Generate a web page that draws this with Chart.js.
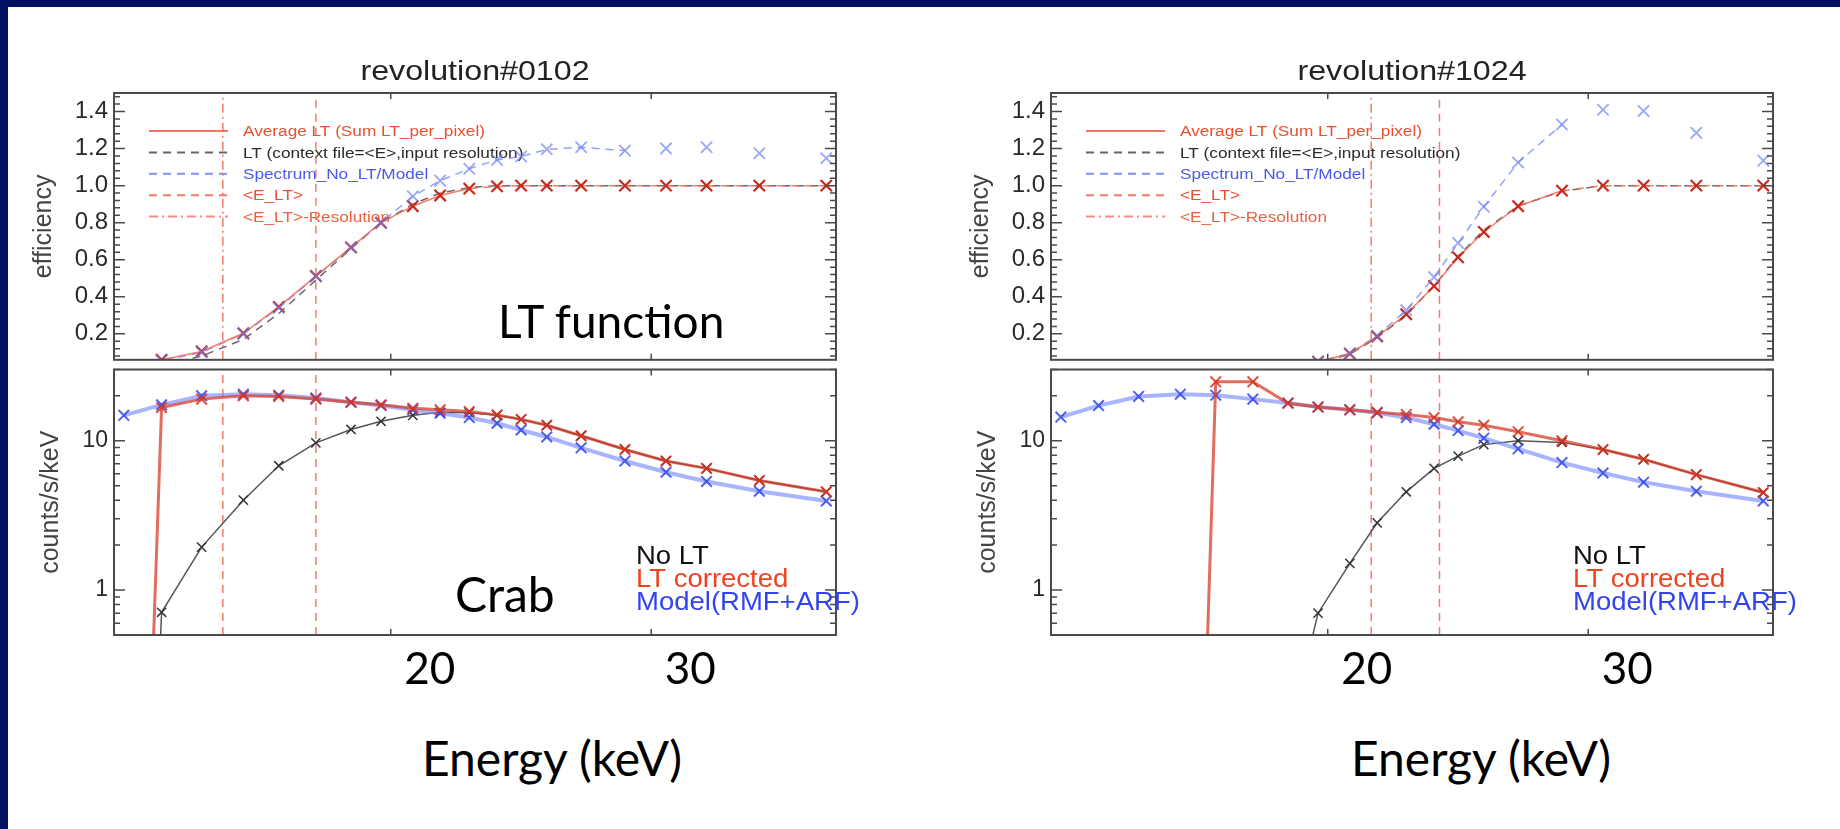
<!DOCTYPE html>
<html>
<head>
<meta charset="utf-8">
<title>LT efficiency and Crab spectra</title>
<script src="https://cdn.jsdelivr.net/npm/chart.js@4.4.1/dist/chart.umd.min.js"></script>
<style>
  html, body { margin: 0; padding: 0; background: #fff; }
  body { width: 1840px; height: 829px; position: relative; overflow: hidden; }
  .band-top { position: absolute; left: 0; top: 0; width: 1840px; height: 7px; background: #021064; }
  .band-left { position: absolute; left: 0; top: 0; width: 8px; height: 829px; background: #021064; }
  .box { position: absolute; }
  .note { position: absolute; font-family: Lato, "Open Sans", sans-serif; color: #000; white-space: nowrap; line-height: 1; }
</style>
</head>
<body>
<div class="band-top"></div>
<div class="band-left"></div>

<div class="box" style="left:0;top:40px"><canvas id="effL" width="920" height="330"></canvas></div>
<div class="box" style="left:0;top:360px"><canvas id="cntL" width="920" height="340"></canvas></div>
<div class="box" style="left:937px;top:40px"><canvas id="effR" width="903" height="330"></canvas></div>
<div class="box" style="left:937px;top:360px"><canvas id="cntR" width="903" height="340"></canvas></div>

<div class="note" style="left:498px;top:298px;font-size:46px">LT function</div>
<div class="note" style="left:455px;top:570px;font-size:48px">Crab</div>
<div class="note" style="left:422px;top:734px;font-size:48px">Energy (keV)</div>
<div class="note" style="left:1351px;top:734px;font-size:48px">Energy (keV)</div>

<script>
// energy bins (keV), shared by both revolutions
const energy = [13.2, 14.0, 14.9, 15.9, 16.8, 17.8, 18.8, 19.7, 20.7, 21.6,
                22.6, 23.6, 24.5, 25.5, 26.9, 28.8, 30.7, 32.7, 35.5, 39.4];

const energyTicks = [20, 30];
const effTicks = [0.2, 0.4, 0.6, 0.8, 1.0, 1.2, 1.4];
const countTicks = [1, 10];
const countMinor = [0.6, 0.7, 0.8, 0.9, 2, 3, 4, 5, 6, 7, 8, 9, 20, 30];

// revolution 0102
const avgLT0102   = [0, 0.06, 0.105, 0.203, 0.346, 0.512, 0.667, 0.80, 0.889, 0.947,
                     0.984, 0.996, 1.0, 1.0, 1.0, 1.0, 1.0, 1.0, 1.0, 1.0];
const ctxLT0102   = [0, 0.03, 0.08, 0.17, 0.31, 0.49, 0.66, 0.80, 0.90, 0.96,
                     0.99, 1.0, 1.0, 1.0, 1.0, 1.0, 1.0, 1.0, 1.0, 1.0];
const ratio0102   = [0, 0.055, 0.10, 0.20, 0.34, 0.51, 0.665, 0.80, 0.943, 1.027,
                     1.091, 1.139, 1.157, 1.196, 1.207, 1.189, 1.201, 1.207, 1.175, 1.148];
const model0102   = [14.8, 17.4, 20.0, 20.5, 20.2, 19.3, 18.1, 17.2, 16.1, 15.3,
                     14.3, 13.1, 11.8, 10.6, 8.96, 7.32, 6.15, 5.34, 4.59, 3.95];
const corr0102    = [1e-6, 16.7, 19.0, 20.0, 19.8, 19.0, 18.1, 17.4, 16.5, 16.1,
                     15.7, 14.9, 13.9, 12.7, 10.8, 8.74, 7.32, 6.53, 5.42, 4.55];
const noLT0102    = [1e-6, 0.71, 1.94, 4.0, 6.8, 9.67, 11.9, 13.5, 14.8, 15.5,
                     15.4, 14.8, 13.9, 12.7, 10.8, 8.74, 7.32, 6.53, 5.42, 4.55];
const eLT0102     = [15.4, 17.8];   // <E_LT>-Resolution, <E_LT>

// revolution 1024
const avgLT1024   = [0, 0, 0, 0, 0, 0, 0, 0.05, 0.093, 0.186,
                     0.306, 0.458, 0.613, 0.75, 0.889, 0.973, 1.0, 1.0, 1.0, 1.0];
const ctxLT1024   = [0, 0, 0, 0, 0, 0, 0, 0.04, 0.09, 0.18,
                     0.30, 0.46, 0.62, 0.76, 0.89, 0.97, 1.0, 1.0, 1.0, 1.0];
const ratio1024   = [0, 0, 0, 0, 0, 0, 0.02, 0.05, 0.095, 0.19,
                     0.328, 0.506, 0.69, 0.886, 1.125, 1.33, 1.41, 1.403, 1.285, 1.135];
const model1024   = [14.4, 17.2, 19.8, 20.5, 20.2, 19.0, 17.9, 16.8, 16.1, 15.4,
                     14.3, 12.9, 11.7, 10.4, 8.83, 7.14, 6.08, 5.28, 4.59, 3.95];
const corr1024    = [null, null, null, 1e-6, 24.8, 24.8, 17.8, 16.8, 16.1, 15.5,
                     15.0, 14.3, 13.4, 12.7, 11.5, 10.0, 8.73, 7.51, 5.93, 4.5];
const noLT1024    = [null, null, null, null, null, null, 0.1, 0.70, 1.51, 2.82,
                     4.55, 6.53, 7.89, 9.42, 10.0, 9.75, 8.73, 7.51, 5.93, 4.5];
const eLT1024     = [21.4, 23.8];

// the ratio curve is only joined up to this bin; above it the points stand alone
const ratioLineEnd = 28.8;

const effLegend = ['Average LT (Sum LT_per_pixel)', 'LT (context file=<E>,input resolution)',
                   'Spectrum_No_LT/Model', '<E_LT>', '<E_LT>-Resolution'];
const cntLegend = ['No LT', 'LT corrected', 'Model(RMF+ARF)'];

const RED = '#c92a1c', RED_LINE = 'rgba(240,105,85,0.85)';
const BLUE_LINE = 'rgba(120,140,245,0.8)';
const GREY = 'rgba(80,80,80,0.85)';
const DASH = [8, 6], DASHDOT = [9, 4, 2, 4];
const SANS = '"Liberation Sans", Arial, sans-serif';

const pts = ys => energy.map((e, i) => ({ x: e, y: ys[i] }));

const effMinor = [];
for (let v = 0.08; v < 1.5; v += 0.04) {
  const r = Math.round(v * 100) / 100;
  if (!effTicks.some(t => Math.abs(t - r) < 1e-6)) effMinor.push(r);
}

// keep the plot box exactly where the layout padding puts it
const noEdgePadding = s => { s.paddingTop = 0; s.paddingBottom = 0; s.paddingLeft = 0; s.paddingRight = 0; };

// the plot text is a slightly wide Helvetica: draw it stretched sideways
function wideText(ctx, text, x, y, sx) {
  ctx.save();
  ctx.translate(x, y);
  ctx.scale(sx, 1);
  ctx.fillText(text, 0, 0);
  ctx.restore();
}

// IDL style frame: box, inward ticks on all sides, in-plot legend and title
const idlFrame = {
  id: 'idlFrame',
  beforeDatasetsDraw(chart, args, o) {
    const { ctx, chartArea: a } = chart;
    if (o.lineLegend) {
      ctx.save();
      ctx.font = '15.5px ' + SANS;
      ctx.textBaseline = 'middle';
      o.lineLegend.forEach((it, i) => {
        const y = a.top + 38 + i * 21.4;
        ctx.strokeStyle = it.line; ctx.lineWidth = 2; ctx.setLineDash(it.dash || []);
        ctx.beginPath(); ctx.moveTo(a.left + 35, y); ctx.lineTo(a.left + 114, y); ctx.stroke();
        ctx.fillStyle = it.color;
        wideText(ctx, it.text, a.left + 129, y + 1, 1.11);
      });
      ctx.restore();
    }
  },
  afterDatasetsDraw(chart, args, o) {
    const { ctx, chartArea: a, scales } = chart;
    ctx.save();
    ctx.strokeStyle = '#4a4a4a';
    ctx.lineWidth = 1.5;
    const y = scales.y, x = scales.x;
    const yTick = (v, len) => {
      const p = y.getPixelForValue(v);
      ctx.beginPath();
      ctx.moveTo(a.left, p); ctx.lineTo(a.left + len, p);
      ctx.moveTo(a.right, p); ctx.lineTo(a.right - len, p);
      ctx.stroke();
    };
    o.yMajor.forEach(v => yTick(v, 11));
    o.yMinor.forEach(v => yTick(v, 6));
    energyTicks.forEach(v => {
      const p = x.getPixelForValue(v);
      ctx.beginPath();
      ctx.moveTo(p, a.top); ctx.lineTo(p, a.top + 6);
      ctx.moveTo(p, a.bottom); ctx.lineTo(p, a.bottom - 6);
      ctx.stroke();
    });
    ctx.lineWidth = 2;
    ctx.strokeRect(a.left, a.top, a.right - a.left, a.bottom - a.top);
    if (o.title) {
      ctx.font = '28px ' + SANS;
      ctx.fillStyle = '#222';
      ctx.textAlign = 'center';
      ctx.textBaseline = 'alphabetic';
      wideText(ctx, o.title, (a.left + a.right) / 2, a.top - 13, 1.15);
    }
    if (o.textLegend) {
      ctx.font = '25px ' + SANS;
      ctx.textAlign = 'left';
      ctx.textBaseline = 'alphabetic';
      o.textLegend.forEach((it, i) => {
        ctx.fillStyle = it.color;
        wideText(ctx, it.text, a.left + 522, a.top + 194 + i * 23, 1.1);
      });
    }
    ctx.restore();
  }
};

function vline(e, ymin, ymax, dash) {
  return {
    data: [{ x: e, y: ymin }, { x: e, y: ymax }],
    borderColor: 'rgba(240,100,80,0.85)', borderWidth: 1.5, borderDash: dash,
    pointRadius: 0, order: 9
  };
}

function effChart(id, rightPad, title, avg, ctxLT, ratio, eLT) {
  const ratioPts = pts(ratio);
  return new Chart(document.getElementById(id), {
    type: 'line',
    data: {
      datasets: [
        vline(eLT[0], 0.06, 1.5, DASHDOT),
        vline(eLT[1], 0.06, 1.5, DASH),
        { data: pts(ctxLT), borderColor: GREY, borderWidth: 1.5, borderDash: DASH,
          pointRadius: 0, order: 5 },
        { data: pts(avg), borderColor: RED_LINE, borderWidth: 1.5,
          segment: { borderDash: c => (c.p0.parsed.y >= 0.97 && c.p1.parsed.y >= 0.97 ? DASH : undefined) },
          pointStyle: 'crossRot', pointRadius: 8, pointBorderWidth: 2.2,
          pointBorderColor: RED, order: 3 },
        { data: ratioPts.filter(p => p.x <= ratioLineEnd), borderColor: BLUE_LINE,
          borderWidth: 1.5, borderDash: DASH, pointRadius: 0, order: 4 },
        { data: ratioPts, showLine: false,
          pointStyle: 'crossRot', pointRadius: 8, pointBorderWidth: 1.8,
          pointBorderColor: 'rgba(110,130,240,0.7)', order: 2 }
      ]
    },
    options: {
      responsive: false, animation: false,
      layout: { padding: { left: 0, right: rightPad, top: 53, bottom: 7 } },
      scales: {
        x: { type: 'logarithmic', min: 13, max: 40, display: false },
        y: {
          type: 'linear', min: 0.06, max: 1.5,
          afterBuildTicks: s => { s.ticks = effTicks.map(v => ({ value: v })); },
          afterFit: s => { s.width = 114; noEdgePadding(s); },
          grid: { display: false, drawTicks: false }, border: { display: false },
          ticks: { callback: v => v.toFixed(1), padding: 6, color: '#2a2a2a',
                   font: { family: SANS, size: 24 } },
          title: { display: true, text: 'efficiency', color: '#444',
                   font: { family: SANS, size: 25 }, padding: { top: 29, bottom: 0 } }
        }
      },
      plugins: {
        legend: { display: false }, tooltip: { enabled: false },
        idlFrame: {
          title, yMajor: effTicks, yMinor: effMinor,
          lineLegend: [
            { text: effLegend[0], color: '#e8502f', line: 'rgba(240,110,90,0.95)' },
            { text: effLegend[1], color: '#2a2a2a', line: '#666', dash: DASH },
            { text: effLegend[2], color: '#4a5ae8', line: '#8090f0', dash: DASH },
            { text: effLegend[3], color: '#e8502f', line: 'rgba(240,110,90,0.9)', dash: DASH },
            { text: effLegend[4], color: '#ee6040', line: 'rgba(240,130,110,0.9)', dash: DASHDOT }
          ]
        }
      },
      elements: { line: { tension: 0 } }
    },
    plugins: [idlFrame]
  });
}

function cntChart(id, rightPad, noLT, corr, model, eLT) {
  return new Chart(document.getElementById(id), {
    type: 'line',
    data: {
      datasets: [
        vline(eLT[0], 0.5, 30, DASH),
        vline(eLT[1], 0.5, 30, DASH),
        { data: pts(noLT), borderColor: '#555', borderWidth: 1.5,
          pointStyle: 'crossRot', pointRadius: 6.5, pointBorderWidth: 1.5,
          pointBorderColor: '#333', order: 3 },
        { data: pts(model), borderColor: 'rgba(110,130,255,0.6)', borderWidth: 4,
          pointStyle: 'crossRot', pointRadius: 7.5, pointBorderWidth: 2,
          pointBorderColor: 'rgba(50,70,235,0.85)', order: 2 },
        { data: pts(corr), borderColor: 'rgba(215,60,40,0.75)', borderWidth: 3,
          pointStyle: 'crossRot', pointRadius: 7.5, pointBorderWidth: 2,
          pointBorderColor: 'rgba(215,50,30,0.85)', order: 1 }
      ]
    },
    options: {
      responsive: false, animation: false,
      layout: { padding: { left: 0, right: rightPad, top: 3, bottom: 0 } },
      scales: {
        x: {
          type: 'logarithmic', min: 13, max: 40,
          afterBuildTicks: s => { s.ticks = energyTicks.map(v => ({ value: v })); },
          afterFit: s => { s.height = 65; noEdgePadding(s); },
          grid: { display: false, drawTicks: false }, border: { display: false },
          ticks: { callback: v => String(v), autoSkip: false, maxRotation: 0,
                   labelOffset: 39, padding: 8, color: '#000',
                   font: { family: 'Lato', size: 44 } }
        },
        y: {
          type: 'logarithmic', min: 0.5, max: 30,
          afterBuildTicks: s => { s.ticks = countTicks.map(v => ({ value: v })); },
          afterFit: s => { s.width = 114; noEdgePadding(s); },
          grid: { display: false, drawTicks: false }, border: { display: false },
          ticks: { callback: v => String(v), padding: 6, color: '#2a2a2a',
                   font: { family: SANS, size: 23 } },
          title: { display: true, text: 'counts/s/keV', color: '#444',
                   font: { family: SANS, size: 25 }, padding: { top: 36, bottom: 0 } }
        }
      },
      plugins: {
        legend: { display: false }, tooltip: { enabled: false },
        idlFrame: {
          yMajor: countTicks, yMinor: countMinor,
          textLegend: [
            { text: cntLegend[0], color: '#111' },
            { text: cntLegend[1], color: '#ee4422' },
            { text: cntLegend[2], color: '#3344ee' }
          ]
        }
      },
      elements: { line: { tension: 0 } }
    },
    plugins: [idlFrame]
  });
}

effChart('effL', 84, 'revolution#0102', avgLT0102, ctxLT0102, ratio0102, eLT0102);
cntChart('cntL', 84, noLT0102, corr0102, model0102, eLT0102);
effChart('effR', 67, 'revolution#1024', avgLT1024, ctxLT1024, ratio1024, eLT1024);
cntChart('cntR', 67, noLT1024, corr1024, model1024, eLT1024);
</script>
</body>
</html>
